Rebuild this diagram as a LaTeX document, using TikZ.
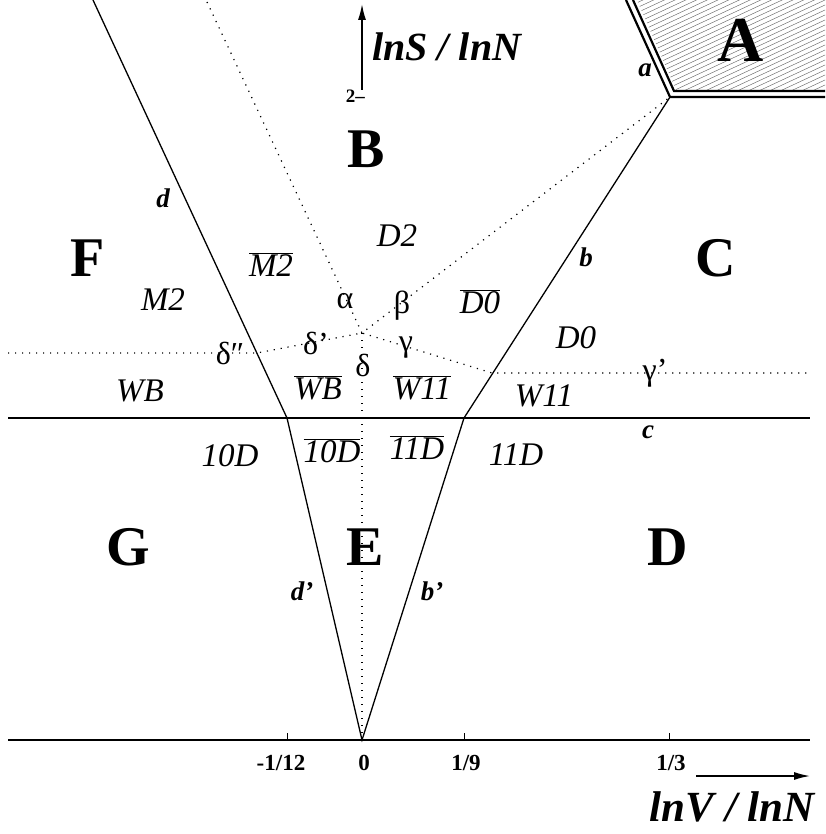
\documentclass[tikz,border=0pt]{standalone}
\usepackage{fontspec}
\setmainfont{Liberation Serif}
\usetikzlibrary{arrows.meta}
\newcommand\ovl[1]{$\overline{\hbox{#1}}$}
\tikzset{
  big/.style={inner sep=0pt,font=\fontsize{56}{56}\selectfont\bfseries},
  bigA/.style={inner sep=0pt,font=\fontsize{64}{64}\selectfont\bfseries},
  lab/.style={inner sep=0pt,font=\fontsize{33}{33}\selectfont\itshape},
  grk/.style={inner sep=0pt,font=\fontsize{32}{32}\selectfont},
  sm/.style={inner sep=0pt,font=\fontsize{27}{27}\selectfont\bfseries\itshape},
  tick/.style={inner sep=0pt,font=\fontsize{23}{23}\selectfont\bfseries},
  axl/.style={inner sep=0pt,font=\bfseries\itshape},
  solid line/.style={line width=1.3pt},
  dotline/.style={line width=1.2pt,dash pattern=on 1.2pt off 5.8pt},
  axisline/.style={line width=1.5pt},
  hatch/.style={line width=0.45pt,black!60},
  bnd/.style={line width=2.2pt},
}
\begin{document}
\begin{tikzpicture}[x=1pt,y=-1pt]
\useasboundingbox (0,0) rectangle (825,834);
% key points
\coordinate (O) at (362,740);
\coordinate (Pl) at (287,418);
\coordinate (Pr) at (464,418);
\coordinate (Dtop) at (93,0);
\coordinate (Ac) at (670,97);
\coordinate (Ctr) at (362,333);
\coordinate (Dbend) at (257,353);
\coordinate (Gbend) at (492,373);
\coordinate (Atop) at (207,2);
\coordinate (Lleft) at (8,353);
\coordinate (Gright) at (810,373);
\coordinate (cL) at (8,418);
\coordinate (cR) at (810,418);
\coordinate (xL) at (8,740);
\coordinate (xR) at (810,740);
% hatched region A
\begin{scope}
\clip (637,0) -- (676,90) -- (825,90) -- (825,0) -- cycle;
\foreach \i in {-4,...,46} \draw[hatch] (600,\i*5) -- ++(240,-112);
\end{scope}
\draw[bnd] (626,0) -- (Ac) -- (825,97);
\draw[bnd] (633,0) -- (674,91) -- (825,91);
% solid lines
\draw[solid line] (Dtop) -- (Pl) -- (O) -- (Pr) -- (Ac);
\draw[solid line] (cL) -- (cR);
% dotted lines
\draw[dotline] (Atop) -- (Ctr) -- (Ac);
\draw[dotline] (Lleft) -- (Dbend) -- (Ctr) -- (Gbend) -- (Gright);
\draw[dotline] (Ctr) -- (O);
% axes
\draw[axisline] (xL) -- (xR);
\foreach \x in {287,464,669} \draw[line width=1pt] (\x,740) -- (\x,733);
\draw[axisline,-{Latex[length=16pt,width=8pt]}] (362,90) -- (362,4);
\draw[axisline,-{Latex[length=16pt,width=8pt]}] (696,776) -- (810,776);
\node[axl,font=\fontsize{43}{43}\selectfont\bfseries\itshape,anchor=east] (xlab) at (815,807) {lnV / lnN};
\node[axl,font=\fontsize{40}{40}\selectfont\bfseries\itshape,anchor=west] (ylab) at (372,47) {lnS / lnN};
\node[tick,font=\fontsize{19}{19}\selectfont\bfseries,anchor=east] (two) at (365,96) {2--};
\node[tick] (t1) at (281,763) {-1/12};
\node[tick] (t2) at (364,763) {0};
\node[tick] (t3) at (466,763) {1/9};
\node[tick] (t4) at (671,763) {1/3};
% region letters
\node[bigA] (A) at (741,40) {A};
\node[big] (B) at (366,149) {B};
\node[big] (C) at (716,258) {C};
\node[big] (D) at (668,547) {D};
\node[big] (E) at (365,547) {E};
\node[big] (F) at (88,258) {F};
\node[big] (G) at (128,547) {G};
% line labels
\node[sm] (la) at (645,70) {a};
\node[sm] (lb) at (586,257) {b};
\node[sm] (lc) at (648,432) {c};
\node[sm] (ld) at (163,198) {d};
\node[sm] (ldp) at (302,591) {d’};
\node[sm] (lbp) at (432,591) {b’};
% phase labels
\node[lab] (D2) at (397,236) {D2};
\node[lab] (M2b) at (271,265) {\ovl{M2}};
\node[lab] (M2) at (163,300) {M2};
\node[lab] (D0b) at (480,302) {\ovl{D0}};
\node[lab] (D0) at (576,338) {D0};
\node[lab] (WB) at (140,391) {WB};
\node[lab] (WBb) at (318,388) {\ovl{WB}};
\node[lab] (W11b) at (422,388) {\ovl{W11}};
\node[lab] (W11) at (544,396) {W11};
\node[lab] (D10) at (230,456) {10D};
\node[lab] (D10b) at (332,451) {\ovl{10D}};
\node[lab] (D11b) at (417,448) {\ovl{11D}};
\node[lab] (D11) at (516,455) {11D};
% greek
\node[grk] (al) at (345,301) {α};
\node[grk] (be) at (402,306) {β};
\node[grk] (ga) at (406,348) {γ};
\node[grk] (gap) at (655,373) {γ’};
\node[grk] (de) at (363,365) {δ};
\node[grk] (dep) at (316,343) {δ’};
\node[grk] (depp) at (230,353) {δ″};
\end{tikzpicture}
\end{document}
